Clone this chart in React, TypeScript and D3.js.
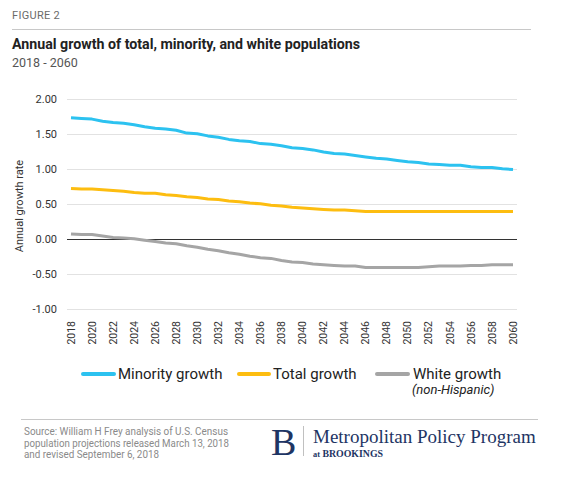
import * as React from "react";
import * as d3 from "d3";

const years = d3.range(2018, 2061);
const minority = [
  1.74, 1.73, 1.72, 1.69, 1.67, 1.66, 1.64, 1.61, 1.59, 1.58, 1.56, 1.52, 1.51, 1.48, 1.46,
  1.43, 1.41, 1.4, 1.37, 1.36, 1.34, 1.31, 1.3, 1.28, 1.25, 1.23, 1.22, 1.2, 1.18, 1.16,
  1.15, 1.13, 1.11, 1.1, 1.08, 1.07, 1.06, 1.06, 1.04, 1.03, 1.03, 1.01, 1.0,
];
const total = [
  0.73, 0.72, 0.72, 0.71, 0.7, 0.69, 0.67, 0.66, 0.66, 0.64, 0.63, 0.61, 0.6, 0.58, 0.57,
  0.55, 0.54, 0.52, 0.51, 0.49, 0.48, 0.46, 0.45, 0.44, 0.43, 0.42, 0.42, 0.41, 0.4, 0.4,
  0.4, 0.4, 0.4, 0.4, 0.4, 0.4, 0.4, 0.4, 0.4, 0.4, 0.4, 0.4, 0.4,
];
const white = [
  0.08, 0.07, 0.07, 0.05, 0.03, 0.02, 0.01, -0.01, -0.03, -0.05, -0.06, -0.09, -0.11, -0.14,
  -0.16, -0.19, -0.21, -0.24, -0.26, -0.27, -0.3, -0.32, -0.33, -0.35, -0.36, -0.37, -0.38,
  -0.38, -0.4, -0.4, -0.4, -0.4, -0.4, -0.4, -0.39, -0.38, -0.38, -0.38, -0.37, -0.37, -0.36,
  -0.36, -0.36,
];
const yTicks = [2, 1.5, 1, 0.5, 0, -0.5, -1];
const xTicks = d3.range(2018, 2061, 2);
const sourceLines = [
  "Source: William H Frey analysis of U.S. Census",
  "population projections released March 13, 2018",
  "and revised September 6, 2018",
];

const series = [
  { name: "Minority growth", values: minority, color: "#2cc2f0" },
  { name: "Total growth", values: total, color: "#fdbd10" },
  { name: "White growth", values: white, color: "#a5a5a5" },
];

const sans = "Roboto, 'DejaVu Sans', sans-serif";
const serif = "'Liberation Serif', 'DejaVu Serif', serif";

export default function App() {
  const x = d3.scaleLinear().domain([2018, 2060]).range([71, 513]);
  const y = d3.scaleLinear().domain([-1, 2]).range([309.5, 99.5]);
  const line = (vals: number[]) =>
    d3
      .line<number>()
      .x((_, i) => x(years[i]))
      .y((d) => y(d))(vals) as string;

  // legend swatch / label positions
  const legend = [
    { x1: 83, x2: 114, tx: 118 },
    { x1: 239, x2: 269, tx: 273 },
    { x1: 377, x2: 408, tx: 413 },
  ];
  const sourceWidths = [204, 205, 135];

  return (
    <svg
      width={563}
      height={485}
      style={{ position: "absolute", left: 0, top: 0, background: "#fff" }}
    >
      <text x={12} y={18.5} fontFamily={sans} fontSize={11} fill="#6b6b6b" letterSpacing={0.3}>
        FIGURE 2
      </text>
      <line x1={12} x2={531} y1={29.5} y2={29.5} stroke="#c8c8c8" strokeWidth={1} />
      <text
        x={12}
        y={48.5}
        fontFamily={sans}
        fontSize={14}
        fontWeight="bold"
        fill="#222"
        textLength={348}
        lengthAdjust="spacingAndGlyphs"
      >
        Annual growth of total, minority, and white populations
      </text>
      <text x={12} y={67} fontFamily={sans} fontSize={12.5} fill="#555">
        2018 - 2060
      </text>

      {yTicks.map((t) => (
        <g key={t}>
          {t !== 0 && (
            <line x1={67} x2={517} y1={y(t)} y2={y(t)} stroke="#e2e2e2" strokeWidth={1.2} />
          )}
          <text
            x={57}
            y={y(t)}
            dy="0.35em"
            textAnchor="end"
            fontFamily={sans}
            fontSize={11}
            fill="#333"
          >
            {t.toFixed(2)}
          </text>
        </g>
      ))}
      <line x1={67} x2={517} y1={y(0)} y2={y(0)} stroke="#333" strokeWidth={1.2} />

      <text
        transform="translate(23,206) rotate(-90)"
        textAnchor="middle"
        fontFamily={sans}
        fontSize={11}
        fill="#333"
      >
        Annual growth rate
      </text>

      {xTicks.map((t) => (
        <text
          key={t}
          transform={`translate(${x(t)},321) rotate(-90)`}
          dy="0.35em"
          textAnchor="end"
          fontFamily={sans}
          fontSize={10.5}
          fill="#333"
        >
          {t}
        </text>
      ))}

      {series.map((s) => (
        <path
          key={s.name}
          d={line(s.values)}
          fill="none"
          stroke={s.color}
          strokeWidth={3}
          strokeLinejoin="round"
        />
      ))}

      {series.map((s, i) => (
        <g key={s.name}>
          <line
            x1={legend[i].x1}
            x2={legend[i].x2}
            y1={374}
            y2={374}
            stroke={s.color}
            strokeWidth={4}
            strokeLinecap="round"
          />
          <text x={legend[i].tx} y={379} fontFamily={sans} fontSize={15} fill="#222">
            {s.name}
          </text>
        </g>
      ))}
      <text x={412} y={394} fontFamily={sans} fontSize={13} fontStyle="italic" fill="#222">
        (non-Hispanic)
      </text>

      <line x1={21} x2={538} y1={419.5} y2={419.5} stroke="#c8c8c8" strokeWidth={1} />
      {sourceLines.map((l, i) => (
        <text
          key={i}
          x={24}
          y={435 + i * 11.5}
          fontFamily={sans}
          fontSize={10.5}
          fill="#8a8a8a"
          textLength={sourceWidths[i]}
          lengthAdjust="spacingAndGlyphs"
        >
          {l}
        </text>
      ))}

      <text x={271} y={455} fontFamily={serif} fontSize={38} fill="#1e3564">
        B
      </text>
      <line x1={303.5} x2={303.5} y1={426} y2={456} stroke="#c0c0c0" strokeWidth={1} />
      <text x={313} y={443} fontFamily={serif} fontSize={19} fill="#1e3564">
        Metropolitan Policy Program
      </text>
      <text
        x={313}
        y={456.5}
        fontFamily={serif}
        fontSize={10}
        fontWeight="bold"
        fill="#1e3564"
        textLength={70}
        lengthAdjust="spacingAndGlyphs"
      >
        <tspan fontSize={8.5}>at</tspan> BROOKINGS
      </text>
    </svg>
  );
}
